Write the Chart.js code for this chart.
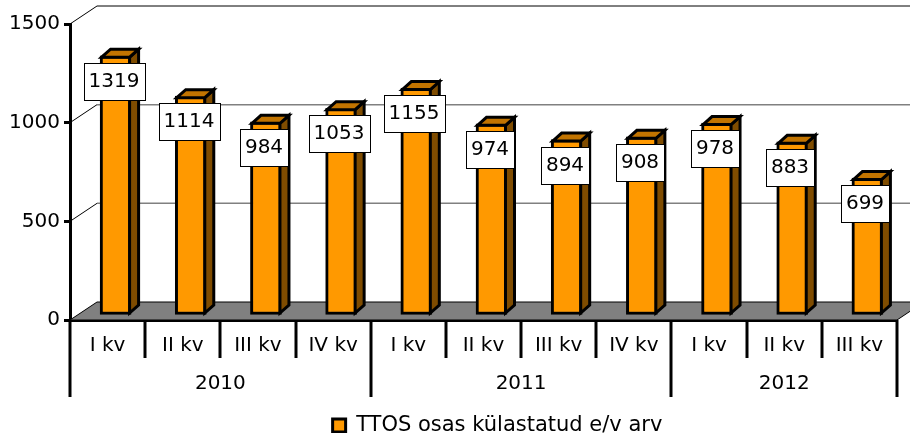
<!DOCTYPE html>
<html lang="et">
<head>
<meta charset="UTF-8">
<title>TTOS</title>
<script src="https://cdn.jsdelivr.net/npm/chart.js"></script>
<style>
  body { margin: 0; background: #fff; }
  .chart-container { width: 910px; height: 433px; }
</style>
</head>
<body>
<div class="chart-container"><canvas id="ttosChart" width="910" height="433"></canvas></div>
<script>
const quarters = ['I kv', 'II kv', 'III kv', 'IV kv', 'I kv', 'II kv', 'III kv', 'IV kv', 'I kv', 'II kv', 'III kv'];
const years = ['2010', '2011', '2012'];
const quartersPerYear = [4, 4, 3];
const visits = [1319, 1114, 984, 1053, 1155, 974, 894, 908, 978, 883, 699];
const yTicks = [0, 500, 1000, 1500];
const seriesName = 'TTOS osas külastatud e/v arv';

const FONT = 'DejaVu Sans';
const WALL_DX = 27, WALL_DY = -18;   // depth of the floor / back wall
const BAR_DX = 9, BAR_DY = -8;       // depth of each bar
const BAR_SHIFT_X = 8, BAR_SHIFT_Y = -4;
const LEGEND_SHIFT = 14;

const chart3d = {
  id: 'chart3d',
  afterLayout(chart) {
    // excel puts the legend a little right of centre
    chart.legend.left += LEGEND_SHIFT;
    chart.legend.right += LEGEND_SHIFT;
  },
  afterDatasetsUpdate(chart) {
    // bars stand a bit inside the floor, not on its front edge
    chart.getDatasetMeta(0).data.forEach(bar => {
      bar.x += BAR_SHIFT_X;
      bar.y += BAR_SHIFT_Y;
      bar.base += BAR_SHIFT_Y;
    });
  },
  beforeDatasetsDraw(chart) {
    const {ctx, chartArea: a, scales: {y}} = chart;
    ctx.save();
    // floor
    ctx.beginPath();
    ctx.moveTo(a.left, a.bottom);
    ctx.lineTo(a.left + WALL_DX, a.bottom + WALL_DY);
    ctx.lineTo(a.right + WALL_DX, a.bottom + WALL_DY);
    ctx.lineTo(a.right, a.bottom);
    ctx.closePath();
    ctx.fillStyle = '#808080';
    ctx.fill();
    ctx.strokeStyle = '#000';
    ctx.lineWidth = 1;
    ctx.stroke();
    // gridlines on the side and back wall
    yTicks.filter(v => v > 0).forEach(v => {
      const py = y.getPixelForValue(v);
      ctx.beginPath();
      ctx.moveTo(a.left, py);
      ctx.lineTo(a.left + WALL_DX, py + WALL_DY);
      ctx.strokeStyle = '#000';
      ctx.lineWidth = 1;
      ctx.stroke();
      ctx.beginPath();
      ctx.moveTo(a.left + WALL_DX, py + WALL_DY);
      ctx.lineTo(a.right + WALL_DX, py + WALL_DY);
      ctx.strokeStyle = v === 1500 ? '#000' : '#808080';
      ctx.lineWidth = v === 1500 ? 1 : 1.5;
      ctx.stroke();
    });
    ctx.restore();
  },
  afterDatasetsDraw(chart) {
    const {ctx} = chart;
    const bars = chart.getDatasetMeta(0).data;
    ctx.save();
    ctx.lineWidth = 3;
    ctx.lineJoin = 'miter';
    ctx.strokeStyle = '#000';
    bars.forEach(bar => {
      const l = bar.x - bar.width / 2 + 1.5, r = bar.x + bar.width / 2 - 1.5;
      const t = bar.y + 1.5, b = bar.base - 1.5;
      // side
      ctx.beginPath();
      ctx.moveTo(r, t);
      ctx.lineTo(r + BAR_DX, t + BAR_DY);
      ctx.lineTo(r + BAR_DX, b + BAR_DY);
      ctx.lineTo(r, b);
      ctx.closePath();
      ctx.fillStyle = '#7F4C00';
      ctx.fill();
      ctx.stroke();
      // top
      ctx.beginPath();
      ctx.moveTo(l, t);
      ctx.lineTo(l + BAR_DX, t + BAR_DY);
      ctx.lineTo(r + BAR_DX, t + BAR_DY);
      ctx.lineTo(r, t);
      ctx.closePath();
      ctx.fillStyle = '#C27400';
      ctx.fill();
      ctx.stroke();
    });
    // value labels
    ctx.font = '20px "' + FONT + '"';
    ctx.textAlign = 'center';
    ctx.textBaseline = 'middle';
    bars.forEach((bar, i) => {
      const txt = String(visits[i]);
      const w = Math.round(ctx.measureText(txt).width + 10);
      const h = 37;
      const cx = Math.round(bar.x - 2), cy = Math.round(bar.y + 25);
      const bx = Math.round(cx - w / 2), by = Math.round(cy - h / 2);
      ctx.fillStyle = '#fff';
      ctx.fillRect(bx, by, w, h);
      ctx.lineWidth = 1;
      ctx.strokeStyle = '#000';
      ctx.strokeRect(bx + 0.5, by + 0.5, w, h);
      ctx.fillStyle = '#000';
      ctx.fillText(txt, cx, cy + 1);
    });
    ctx.restore();
  },
  afterDraw(chart) {
    // category separators and the year row
    const {ctx, chartArea: a, scales: {x}} = chart;
    const step = (a.right - a.left) / quarters.length;
    ctx.save();
    ctx.strokeStyle = '#000';
    ctx.lineWidth = 3;
    const yearEdges = [0];
    quartersPerYear.forEach(n => yearEdges.push(yearEdges[yearEdges.length - 1] + n));
    for (let i = 0; i <= quarters.length; i++) {
      const px = Math.round(x.getPixelForValue(i) - step / 2);
      const bottom = yearEdges.includes(i) ? a.bottom + 77 : a.bottom + 38;
      ctx.beginPath();
      ctx.moveTo(px, a.bottom);
      ctx.lineTo(px, bottom);
      ctx.stroke();
    }
    ctx.font = '20px "' + FONT + '"';
    ctx.fillStyle = '#000';
    ctx.textAlign = 'center';
    ctx.textBaseline = 'middle';
    years.forEach((yr, i) => {
      const from = x.getPixelForValue(yearEdges[i]) - step / 2;
      const to = x.getPixelForValue(yearEdges[i + 1] - 1) + step / 2;
      ctx.fillText(yr, (from + to) / 2, a.bottom + 64);
    });
    ctx.restore();
  }
};

const ctx = document.getElementById('ttosChart').getContext('2d');
const chart = new Chart(ctx, {
  type: 'bar',
  data: {
    labels: quarters,
    datasets: [{
      label: seriesName,
      data: visits,
      backgroundColor: '#FF9900',
      borderColor: '#000',
      borderWidth: 3,
      borderSkipped: false,
      barThickness: 31
    }]
  },
  options: {
    responsive: false,
    animation: false,
    devicePixelRatio: 1,
    layout: { padding: { top: 24, right: 13, left: 0, bottom: -13 } },
    plugins: {
      tooltip: { enabled: false },
      legend: {
        position: 'bottom',
        fullSize: false,
        labels: {
          font: { family: FONT, size: 21 },
          color: '#000',
          boxWidth: 13,
          boxHeight: 13,
          padding: 4
        }
      }
    },
    scales: {
      x: {
        grid: { display: false },
        border: { display: true, color: '#000', width: 3 },
        ticks: {
          font: { family: FONT, size: 20 },
          color: '#000',
          padding: 6,
          maxRotation: 0,
          autoSkip: false
        },
        afterFit: scale => { scale.height = 91; }
      },
      y: {
        min: 0,
        max: 1500,
        afterBuildTicks: scale => { scale.ticks = yTicks.map(v => ({ value: v })); },
        grid: { drawOnChartArea: false, color: '#000', lineWidth: 3, tickLength: 6 },
        border: { display: true, color: '#000', width: 3 },
        ticks: {
          font: { family: FONT, size: 20 },
          color: '#000',
          padding: 4,
          callback: v => String(v)
        },
        afterFit: scale => { scale.width = 70; }
      }
    }
  },
  plugins: [chart3d]
});
</script>
</body>
</html>
